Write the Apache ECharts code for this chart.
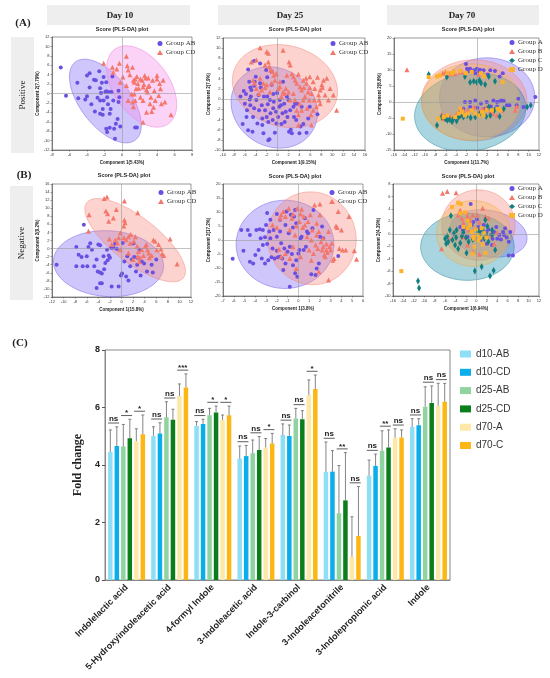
<!DOCTYPE html>
<html>
<head>
<meta charset="utf-8">
<script src="https://cdn.jsdelivr.net/npm/echarts/dist/echarts.min.js"></script>
<style>html,body{margin:0;padding:0;background:#fff}#main{width:550px;height:678px}</style>
</head>
<body>
<div id="main"></div>
<script>
// ---------- panel C data ----------
var metabolites = ['Indolelactic acid', '5-Hydroxyindoleacetic acid', '4-formyl Indole', '3-Indoleacetic acid',
    'Indole-3-carbinol', '3-Indoleacetonitrile', '3-Indolepropionic acid', 'Indole'];
var barNames = ['d10-AB', 'd10-CD', 'd25-AB', 'd25-CD', 'd70-A', 'd70-C'];
var barColors = ['#8edff6', '#0aaeea', '#8fd3a0', '#0b7d1a', '#fde8a8', '#fdb714'];
var d10AB = [4.46, 5.01, 5.36, 4.22, 5.04, 3.76, 3.63, 5.32];
var d10CD = [4.66, 5.10, 5.43, 4.31, 5.01, 3.77, 3.97, 5.38];
var d25AB = [4.64, 5.66, 5.73, 4.41, 5.62, 2.32, 4.50, 6.03];
var d25CD = [4.93, 5.57, 5.83, 4.52, 5.59, 2.77, 4.61, 6.16];
var d70A = [4.83, 6.40, 5.57, 4.61, 6.43, 0.81, 4.95, 6.06];
var d70C = [5.07, 6.70, 5.73, 4.75, 6.64, 1.53, 4.96, 6.20];
var d10ABsd = [0.76, 0.32, 0.15, 0.44, 0.39, 1.04, 0.54, 0.29];
var d10CDsd = [0.67, 0.37, 0.16, 0.37, 0.38, 0.73, 0.41, 0.23];
var d25ABsd = [0.77, 0.54, 0.24, 0.46, 0.35, 1.66, 0.69, 0.69];
var d25CDsd = [0.66, 0.37, 0.22, 0.47, 0.30, 1.66, 0.61, 0.59];
var d70Asd = [0.43, 0.42, 0.17, 0.31, 0.53, 1.39, 0.31, 0.78];
var d70Csd = [0.67, 0.47, 0.32, 0.35, 0.49, 1.72, 0.26, 0.64];
var sigLabels = [
    ['ns', '*', '*'], ['ns', 'ns', '***'], ['ns', '*', '*'], ['ns', 'ns', '*'],
    ['ns', 'ns', '*'], ['ns', '**', 'ns'], ['ns', '**', 'ns'], ['ns', 'ns', 'ns']
];

// ---------- panel A/B scores ----------
var d10PosAB = [[-7.0,5.5],[-6.4,-0.5],[-5.1,2.3],[-5.0,-1.0],[-4.2,-1.3],[-4.0,3.8],[-3.7,1.3],[-3.7,4.3],[-3.5,-2.3],[-3.2,2.9],[-3.0,2.8],[-2.8,-0.9],[-2.6,4.7],[-2.5,1.1],[-2.5,-1.5],[-2.4,0.1],[-2.3,2.3],[-2.2,-3.3],[-2.1,3.5],[-2.1,-1.5],[-1.9,0.3],[-1.8,0.5],[-1.8,2.4],[-1.7,-0.8],[-1.6,-2.3],[-1.5,0.3],[-1.4,-4.3],[-1.3,-3.3],[-1.2,0.3],[-1.1,3.6],[-1.0,-1.5],[-0.9,-7.5],[-0.8,-9.6],[-0.7,-6.4],[-0.5,-5.4],[-0.4,0.6],[-0.3,-0.8],[-0.2,-7.0],[-0.4,-1.8],[-1.8,-7.5],[-1.7,-8.2],[-1.4,-7.3],[-2.5,-4.3],[-2.2,-4.5],[1.5,-7.2],[1.7,-7.2],[-3.1,-3.8],[-4.0,-0.6]];
var d10PosCD = [[-2.1,6.4],[-1.1,5.6],[-0.6,5.2],[-0.3,6.4],[0.5,7.9],[0.6,5.9],[0.7,5.0],[0.9,4.0],[1.2,5.6],[1.3,2.8],[1.4,2.4],[1.5,3.1],[1.6,1.0],[1.7,3.6],[1.8,2.1],[1.9,1.1],[2.1,-0.8],[2.3,2.8],[2.4,-1.5],[2.4,1.4],[2.5,1.9],[2.6,3.8],[2.7,3.3],[2.8,0.8],[2.9,0.3],[3.0,1.5],[3.1,1.7],[3.3,-0.8],[3.4,-3.8],[3.6,-2.9],[3.7,0.6],[3.8,-1.5],[4.0,3.8],[4.0,3.1],[4.2,-0.4],[4.3,2.1],[4.4,1.0],[4.5,-2.2],[4.7,2.8],[4.9,-1.8],[5.6,-4.5],[3.2,-2.2],[1.2,-1.8],[1.5,-1.5],[1.1,-0.1],[1.4,-0.1],[2.4,-6.1],[2.8,-4.0],[-1.0,4.5],[0.1,3.5],[0.5,1.7],[0.7,-1.5],[1.3,-2.8],[2.1,3.1],[3.0,3.3],[3.5,2.8],[-0.2,2.4]];
var d25PosAB = [[-6.8,0.5],[-6.4,-4.9],[-6.2,1.6],[-6.0,-0.9],[-5.8,1.0],[-5.7,-3.5],[-5.6,-2.2],[-5.4,5.8],[-5.4,-6.1],[-5.2,3.4],[-5.1,-0.1],[-5.0,-1.2],[-4.9,0.5],[-4.8,1.8],[-4.6,-6.4],[-4.5,-3.5],[-4.3,7.5],[-4.3,-1.8],[-4.2,3.4],[-4.0,4.4],[-3.9,-0.2],[-3.7,-4.8],[-3.5,0.8],[-3.4,-2.2],[-3.2,7.0],[-3.1,2.3],[-2.9,-1.2],[-2.8,-5.1],[-2.8,-3.8],[-2.6,-6.7],[-2.5,0.5],[-2.3,-2.2],[-2.1,5.7],[-2.0,-3.5],[-1.9,4.3],[-1.8,-1.0],[-1.7,-4.5],[-1.7,-8.1],[-1.5,-7.9],[-1.4,-0.2],[-1.3,-2.8],[-1.1,5.4],[-1.1,2.8],[-0.9,-4.1],[-0.8,-1.8],[-0.7,-0.5],[-0.5,-6.6],[-0.3,-2.5],[-0.2,-4.8],[-0.1,1.2],[0.1,-3.5],[0.3,-1.5],[0.4,-0.2],[0.6,-1.2],[0.7,-4.9],[0.9,-2.8],[1.0,3.4],[1.2,-0.9],[1.3,-4.5],[1.5,-2.5],[1.7,0.5],[1.8,-3.5],[2.0,-0.2],[2.1,-6.4],[2.3,-2.2],[2.4,-6.0],[2.6,-6.7],[2.9,-1.5],[3.0,-3.5],[3.2,-0.9],[3.4,-4.1],[3.6,-0.9],[4.0,-6.7],[4.2,-5.4],[4.4,-1.5],[4.7,-4.9],[5.3,-6.6],[5.6,-3.8],[5.9,-1.5],[7.3,-3.0],[-1.9,0.5],[-0.8,1.0],[-3.2,3.1],[-5.0,2.3],[-4.3,2.6]];
var d25PosCD = [[-3.2,10.1],[-2.0,9.3],[-1.7,9.0],[-4.8,7.3],[-3.9,7.7],[-2.3,6.7],[-1.7,7.3],[-1.5,6.4],[-1.3,5.7],[-0.9,5.4],[-0.7,4.7],[-0.2,5.0],[0.4,3.4],[1.0,9.6],[1.7,4.7],[2.1,7.3],[2.3,6.7],[2.6,5.0],[2.9,4.4],[3.2,3.7],[3.5,3.1],[3.8,4.9],[4.1,2.4],[4.4,1.8],[4.7,3.7],[5.0,0.5],[5.2,4.1],[5.3,3.1],[5.6,1.4],[5.8,-0.2],[5.9,4.4],[6.2,1.1],[6.5,3.4],[6.8,2.1],[7.1,-1.5],[7.5,0.8],[7.6,-0.2],[7.8,-0.9],[8.1,2.8],[8.2,2.3],[8.7,0.8],[9.0,4.1],[9.3,-0.2],[9.6,2.1],[10.2,0.8],[10.8,-2.2],[2.9,1.1],[3.2,-0.2],[2.3,-0.2],[2.0,1.4],[1.5,2.1],[1.0,1.4],[0.7,0.5],[0.4,2.4],[0.1,2.1],[-0.5,3.7],[-1.1,3.1],[-2.0,2.8],[-2.3,2.3],[-2.6,3.1],[-2.9,1.8],[-3.4,1.1],[-3.9,2.1],[-4.2,3.1],[-4.5,3.7],[-3.2,4.1],[-1.4,1.4],[3.5,-2.2],[3.8,-3.1],[4.4,-2.2],[4.0,-0.9],[4.7,-0.2],[5.4,-1.8],[6.1,-3.1],[6.5,-2.2],[6.2,-5.1],[3.8,-5.1],[1.3,1.1],[6.7,-0.2],[7.8,1.8],[8.4,3.7],[7.3,4.3],[5.9,2.3],[4.8,2.3]];
var d70PosA = [[-2.1,11.9],[-1.9,10.4],[-1.6,9.7],[-1.3,10.4],[-0.6,9.9],[-0.3,9.0],[0.0,10.4],[0.3,9.7],[0.6,10.1],[1.3,9.9],[2.1,8.6],[2.6,9.9],[3.5,9.7],[4.4,8.0],[5.0,9.0],[-2.3,0.0],[-1.3,0.0],[-0.3,0.5],[0.8,-0.5],[1.9,0.0],[3.2,0.5],[3.9,0.0],[4.5,0.2],[4.8,0.5],[5.2,0.3],[5.8,-1.0],[6.3,-1.0],[8.0,1.0],[9.0,-1.6],[11.3,1.6],[0.1,-1.8],[2.7,-1.4],[-1.3,-1.6],[7.7,-1.0],[-2.6,-2.1],[-3.2,-2.6],[1.6,-2.1],[3.9,-1.4]];
var d70PosB = [[-13.5,10.1],[-6.6,9.0],[-6.1,9.4],[-5.7,8.6],[-5.2,9.0],[-4.6,9.7],[-4.2,8.8],[-3.2,9.6],[-2.9,9.4],[-6.8,-3.8],[-6.1,-4.2],[-5.2,-4.5],[-3.9,-3.6],[-2.6,-2.6],[-1.8,-2.6],[-0.5,-1.6],[0.3,-3.1],[1.0,-2.1],[2.6,-3.1],[3.1,-3.6],[3.9,-4.2],[4.8,-2.6],[7.7,-1.4],[7.4,-2.6],[-6.4,-5.2],[-4.5,-4.7],[-3.2,-4.2],[1.9,-1.6],[0.3,8.6],[-5.7,-5.2]];
var d70PosC = [[-9.3,8.6],[-5.8,7.8],[-2.3,8.0],[-1.3,6.2],[-0.6,6.5],[0.0,6.2],[0.5,6.8],[0.8,5.9],[1.6,5.5],[2.3,8.0],[3.5,6.5],[-7.7,-7.3],[-6.8,-4.7],[-6.1,-5.2],[-5.7,-5.7],[-5.3,-5.5],[-4.8,-6.2],[-4.5,-5.2],[-3.5,-4.7],[-3.2,-4.2],[-2.6,-4.7],[-1.9,-4.2],[-1.2,-4.9],[-0.3,-4.7],[0.6,-3.6],[1.8,-4.5],[2.6,-4.2],[3.4,-2.6],[4.4,-4.5],[9.7,-1.6],[10.4,-1.0],[2.3,-1.6],[5.2,-2.1],[-3.9,-5.9]];
var d70PosD = [[-14.3,-5.2],[-9.3,7.8],[-7.7,8.0],[-7.1,8.3],[-5.7,9.0],[-4.8,9.0],[-4.4,9.4],[-3.2,9.7],[-2.1,9.0],[-1.0,9.4],[0.8,9.0],[1.4,8.0],[5.0,6.2],[-7.4,-5.2],[-6.4,-4.7],[-5.7,-4.2],[-4.2,-4.7],[-3.5,-3.6],[-2.9,-3.1],[-2.3,-4.2],[-1.8,-3.6],[-1.0,-2.6],[-0.3,-3.6],[0.3,-4.2],[1.0,-3.1],[1.3,-4.2],[2.9,-2.6],[4.0,-2.1],[4.5,-2.6],[1.9,-2.6],[-3.2,-2.1]];
var d10NegAB = [[-11.2,-4.0],[-6.5,5.9],[-7.8,0.4],[-6.9,-2.1],[-7.4,-1.5],[-6.7,-4.4],[-6.0,-1.9],[-5.7,0.4],[-5.4,1.3],[-5.1,-0.3],[-4.7,-4.4],[-4.3,-2.7],[-4.1,-5.7],[-4.0,1.0],[-3.7,0.8],[-3.7,-5.9],[-3.4,-6.2],[-3.1,-1.9],[-2.8,-3.6],[-2.5,-0.3],[-2.4,-2.9],[-2.2,-1.7],[-1.8,0.2],[-1.7,-9.4],[-1.4,0.2],[-1.1,1.2],[-0.8,-0.1],[-0.5,-9.4],[-0.1,-6.7],[0.1,-6.2],[0.2,1.4],[0.5,-3.2],[0.8,-6.9],[1.0,-1.9],[1.2,-7.9],[1.5,-4.4],[1.8,-2.7],[2.1,1.3],[2.2,-2.1],[2.5,-5.7],[2.7,-4.0],[2.8,-2.3],[3.1,-0.3],[3.3,-6.7],[3.5,-3.2],[3.9,-3.7],[4.4,-5.7],[5.2,-4.0],[5.4,-5.9],[6.0,-2.7],[-3.7,-8.6],[-4.3,-9.8],[-3.4,-8.6],[-3.0,-5.1],[-2.0,-2.3],[-5.9,-4.4],[-7.8,-4.4]];
var d10NegCD = [[-5.6,8.4],[-3.0,12.4],[-2.5,12.8],[-2.7,9.3],[-2.4,8.6],[-2.2,6.8],[-1.4,7.6],[-0.9,9.7],[0.5,11.8],[0.5,7.1],[0.6,6.4],[0.4,5.6],[2.8,8.9],[-5.7,4.3],[-2.1,2.4],[-1.7,1.0],[-1.1,2.1],[-0.7,1.4],[-0.2,3.9],[0.4,2.7],[0.8,2.2],[1.2,2.9],[1.5,1.3],[2.1,1.8],[2.4,2.9],[2.7,0.6],[2.8,-1.9],[2.9,-0.7],[3.2,-2.3],[3.5,-0.3],[3.8,-1.7],[4.1,0.6],[4.3,1.0],[4.5,-0.3],[4.7,-1.1],[4.8,-2.3],[5.2,-1.7],[5.5,2.1],[5.8,1.8],[6.1,-0.3],[6.4,1.0],[6.8,-0.1],[7.0,-1.3],[7.3,-1.7],[8.4,2.4],[9.6,-3.8],[-0.2,-0.3],[1.2,-1.1],[2.0,-2.7],[3.1,-3.2],[1.6,3.5],[-0.5,2.7]];
var d25NegAB = [[-6.1,-6.7],[-5.3,3.6],[-5.1,-3.8],[-4.7,3.6],[-4.5,-7.8],[-4.5,1.8],[-4.2,-8.4],[-4.0,-5.4],[-3.9,3.6],[-3.7,-3.6],[-3.6,3.8],[-3.5,0.6],[-3.4,-6.6],[-3.3,-1.8],[-3.3,3.6],[-3.1,1.0],[-3.1,-8.4],[-3.0,5.4],[-2.9,-1.4],[-2.8,-7.2],[-2.7,3.0],[-2.6,7.2],[-2.6,0.6],[-2.5,-6.2],[-2.4,-3.0],[-2.3,3.6],[-2.2,-6.6],[-2.0,1.2],[-2.0,9.3],[-2.0,-3.8],[-1.9,-6.2],[-1.7,3.0],[-1.7,7.2],[-1.6,-1.2],[-1.5,-6.6],[-1.4,-10.7],[-1.3,-3.0],[-1.2,5.4],[-1.2,-8.4],[-1.1,10.2],[-1.0,-4.2],[-0.9,2.4],[-0.8,-16.7],[-0.8,-2.4],[-0.7,9.0],[-0.6,-5.0],[-0.5,-9.0],[-0.5,4.5],[-0.4,8.4],[-0.3,10.7],[-0.2,-7.2],[-0.2,6.0],[-0.1,-13.1],[0.0,-4.8],[0.1,-3.6],[0.2,0.6],[0.3,1.2],[0.5,-3.6],[0.6,7.8],[0.7,-2.4],[0.8,3.0],[0.9,2.4],[1.2,-12.2],[1.3,4.2],[1.4,10.7],[1.6,-12.5],[1.7,-10.2],[1.9,-8.4],[2.0,1.2],[2.2,4.8],[2.3,0.6],[3.7,-5.7],[-2.9,9.6],[-0.3,-11.9],[-1.7,-6.0]];
var d25NegCD = [[-2.4,5.4],[-2.0,4.5],[-1.7,7.8],[-1.6,9.0],[-1.4,10.2],[-1.2,8.4],[-0.9,11.3],[-0.8,3.6],[-0.6,7.8],[-0.5,9.3],[-0.3,1.8],[-0.2,5.0],[-0.1,11.3],[0.1,6.6],[0.2,9.3],[0.3,11.0],[0.4,4.5],[0.5,8.4],[0.6,5.4],[0.8,1.2],[0.9,6.6],[1.0,-3.6],[1.1,9.0],[1.2,-7.2],[1.2,0.0],[1.3,3.6],[1.4,-4.8],[1.5,12.5],[1.6,-1.8],[1.7,1.8],[1.7,6.0],[1.8,-3.0],[1.9,3.0],[2.0,12.9],[2.0,9.0],[2.1,-0.6],[2.2,-3.6],[2.3,0.6],[2.3,-2.4],[2.4,-5.4],[2.5,-6.0],[2.6,-1.4],[2.6,-3.6],[2.7,-4.5],[2.8,3.0],[2.9,-2.4],[3.0,-3.6],[3.1,-1.2],[3.2,-7.2],[3.3,-6.6],[3.5,5.0],[3.6,4.5],[3.7,10.2],[3.8,-3.0],[4.0,3.6],[4.1,-3.6],[4.4,-3.6],[4.7,8.4],[5.2,-3.8],[5.4,-6.9],[2.8,-14.3],[1.9,-11.3],[-1.6,-6.0],[-1.2,-4.8],[-0.8,-6.6],[-0.2,-10.2],[-1.8,-3.3],[-0.5,-2.4],[0.2,-6.0]];
var d70NegA = [[-1.1,4.8],[-3.1,1.1],[-2.6,0.6],[-2.0,0.9],[-1.7,-0.5],[-0.9,1.4],[-0.6,1.9],[0.1,2.3],[0.4,1.1],[0.8,0.6],[1.4,1.4],[1.9,0.3],[2.3,0.7],[2.8,-0.2],[3.1,-0.8],[3.4,0.3],[3.8,1.1],[4.0,-0.8],[4.4,-0.2],[4.7,-0.9],[5.1,0.3],[5.3,-0.2],[5.5,0.9],[5.8,-0.6],[6.2,-1.3],[6.5,0.3],[6.2,-3.5],[7.0,-3.5],[2.0,-1.6],[0.8,-1.0],[-0.3,-0.8],[3.0,-1.8]];
var d70NegB = [[-6.5,6.5],[-5.6,6.8],[-3.9,6.6],[-6.7,-2.4],[-5.1,-0.8],[-3.5,3.0],[-3.1,3.8],[-2.8,2.5],[-2.5,1.8],[-2.0,3.4],[-1.7,2.8],[-1.2,2.2],[-0.7,3.0],[-0.3,0.9],[0.2,3.0],[0.6,1.9],[1.2,4.1],[1.7,2.8],[2.3,2.5],[2.8,-0.2],[3.4,-1.6],[3.9,0.2],[-2.4,-0.5],[-1.7,-1.8],[-0.6,-2.9],[0.6,-3.3],[-1.5,0.6]];
var d70NegC = [[-11.2,-7.6],[-11.0,-8.7],[-6.0,-0.8],[-5.8,-1.6],[-5.6,-0.4],[-5.4,-1.3],[-5.1,0.6],[-4.9,2.9],[-4.6,-1.0],[-4.3,0.1],[-4.1,-1.8],[-3.9,-0.6],[-3.8,0.6],[-3.5,-2.4],[-3.1,-1.5],[-2.8,-0.4],[-2.5,0.2],[-2.0,-0.6],[-1.9,-3.1],[-1.5,-1.3],[-0.7,-0.9],[-0.3,-6.0],[0.1,0.6],[0.6,0.3],[0.8,-0.6],[1.0,-5.3],[1.2,0.6],[1.5,-0.8],[1.9,-0.2],[2.1,1.2],[2.3,-1.3],[2.6,-6.8],[3.0,-0.2],[3.3,-5.9],[3.6,-2.6],[3.0,0.6],[1.7,2.2]];
var d70NegD = [[-14.4,-6.0],[-4.7,4.3],[-3.5,5.0],[-3.0,4.8],[-3.1,3.3],[-2.2,3.4],[-1.7,2.1],[-1.2,1.4],[-0.9,0.3],[-0.6,-0.4],[-0.5,-0.8],[-0.1,0.7],[0.2,-0.2],[0.4,-1.1],[0.7,-0.6],[1.0,0.9],[1.2,-1.7],[1.5,0.1],[1.9,-0.6],[-0.7,-3.2],[1.7,-3.1],[-0.3,-2.1],[-1.7,0.9],[-2.5,1.1]];

// confidence ellipses: centre x, centre y, semi-axis u (x,y), semi-axis v (x,y)
var ell10Pos = [[-1.9,-1.6,3.43,-8.28,-2.26,-3.24],[2.25,1.49,3.05,-7.93,-2.59,-3.44]];
var ell25Pos = [[-0.61,-1.64,7.02,-4.58,-3.66,-6.55],[1.34,2.55,9.46,-2.62,-1.83,-7.73]];
var ell70Pos = [[1.99,1.45,9.2,0,0,-12.36],[-0.51,0.52,10.17,0,0,-12.67],[-1.29,-3.12,10.62,3.12,1.61,-11.94],[-1.16,0,9.52,0,0,-11.94]];
var ell10Neg = [[-2.24,-3.74,9.5,-0.83,-0.35,-8.14],[2.36,2.08,8.35,-9.3,-2.39,-4.48]];
var ell25Neg = [[-1.24,-1.55,4.54,0,0,-15.76],[1.24,0.6,1.09,-16.12,3.98,3.94]];
var ell70Neg = [[2.31,0.05,7.37,-1.08,-0.64,-3.66],[0.38,1.4,7.05,0,0,-5.66],[-1.73,-2.1,8.97,0,0,-5.39],[-0.58,0.05,7.05,0,0,-5.28]];

var serif = '"Liberation Serif","Times New Roman",serif';
var sans = '"Liberation Sans",Arial,sans-serif';

var grids = [], xAxes = [], yAxes = [], series = [], legends = [];

function ellipseRenderer(fill, stroke) {
    return function (params, api) {
        var pts = [];
        for (var k = 0; k < 90; k++) {
            var t = k / 90 * Math.PI * 2;
            pts.push(api.coord([
                api.value(0) + api.value(2) * Math.cos(t) + api.value(4) * Math.sin(t),
                api.value(1) + api.value(3) * Math.cos(t) + api.value(5) * Math.sin(t)
            ]));
        }
        return {type: 'polygon', shape: {points: pts}, style: {fill: fill, stroke: stroke, lineWidth: 0.6}};
    };
}

function addPanel(gi, box, xr, yr, xName, yName, groups, legendPos) {
    grids.push({left: box[0], top: box[1], width: box[2], height: box[3], show: true, borderColor: '#555', borderWidth: 0.6});
    var axisCommon = {
        nameLocation: 'middle',
        nameTextStyle: {fontSize: 4.5, fontWeight: 'bold', fontFamily: sans, color: '#222'},
        axisLine: {onZero: false, lineStyle: {color: '#444', width: 0.6}},
        axisTick: {length: 1.5, lineStyle: {color: '#444', width: 0.5}},
        axisLabel: {fontSize: 4, margin: 2.5, color: '#333', fontFamily: sans},
        splitLine: {show: false}
    };
    xAxes.push(Object.assign({gridIndex: gi, type: 'value', min: xr[0], max: xr[1], interval: xr[2], name: xName, nameGap: 10}, axisCommon));
    yAxes.push(Object.assign({gridIndex: gi, type: 'value', min: yr[0], max: yr[1], interval: yr[2], name: yName, nameGap: 12}, axisCommon));
    groups.forEach(function (g) {
        series.push({
            type: 'custom', name: g.name + ' ellipse', xAxisIndex: gi, yAxisIndex: gi, clip: true, z: 1, silent: true,
            encode: {x: 0, y: 1}, data: [g.ell], renderItem: ellipseRenderer(g.fill, g.stroke)
        });
    });
    groups.forEach(function (g, k) {
        var s = {
            type: 'scatter', name: g.name, xAxisIndex: gi, yAxisIndex: gi, data: g.data,
            symbol: g.symbol, symbolSize: g.size, itemStyle: {color: g.color, opacity: 1}, z: 3, silent: true
        };
        if (k === 0) {
            s.markLine = {
                silent: true, symbol: 'none', label: {show: false},
                lineStyle: {color: '#999', width: 0.6, type: 'solid'},
                data: [{xAxis: 0}, {yAxis: 0}]
            };
        }
        series.push(s);
    });
    legends.push({
        data: groups.map(function (g) { return {name: g.name, icon: g.icon}; }),
        left: legendPos[0], top: legendPos[1], orient: 'vertical', padding: 0,
        itemWidth: 6, itemHeight: 5, itemGap: 2, selectedMode: false,
        textStyle: {fontSize: 7, fontFamily: serif, color: '#333', padding: [0, 0, 0, -2]}
    });
}

var PURPLE = '#6a4fe2', SALMON = '#f4776b', TEAL = '#0f7f82', ORANGE = '#fdb22b';
var fAB = 'rgba(128,108,245,0.38)', sAB = 'rgba(110,90,230,0.8)';
var fCD = 'rgba(246,140,125,0.38)', sCD = 'rgba(240,120,105,0.7)';
var fCDpink = 'rgba(245,150,235,0.42)', sCDpink = 'rgba(238,120,220,0.8)';
var fC = 'rgba(40,150,178,0.4)', sC = 'rgba(20,120,150,0.7)';
var fD = 'rgba(250,185,90,0.38)', sD = 'rgba(240,160,60,0.7)';

function twoGroups(ab, cd, ell, pink) {
    return [
        {name: 'Group AB', data: ab, symbol: 'circle', size: 4, color: PURPLE, icon: 'circle', ell: ell[0], fill: fAB, stroke: sAB},
        {name: 'Group CD', data: cd, symbol: 'triangle', size: 5, color: SALMON, icon: 'triangle', ell: ell[1],
            fill: pink ? fCDpink : fCD, stroke: pink ? sCDpink : sCD}
    ];
}
function fourGroups(a, b, c, d, ell) {
    return [
        {name: 'Group A', data: a, symbol: 'circle', size: 4, color: PURPLE, icon: 'circle', ell: ell[0], fill: fAB, stroke: sAB},
        {name: 'Group B', data: b, symbol: 'triangle', size: 5, color: SALMON, icon: 'triangle', ell: ell[1], fill: fCD, stroke: sCD},
        {name: 'Group C', data: c, symbol: 'diamond', size: [4, 7], color: TEAL, icon: 'diamond', ell: ell[2], fill: fC, stroke: sC},
        {name: 'Group D', data: d, symbol: 'rect', size: 4, color: ORANGE, icon: 'rect', ell: ell[3], fill: fD, stroke: sD}
    ];
}

addPanel(0, [52, 37, 140, 113], [-8, 8, 2], [-12, 12, 2], 'Component 1(5.43%)', 'Component 2(7.79%)',
    twoGroups(d10PosAB, d10PosCD, ell10Pos, true), [157, 40]);
addPanel(1, [223, 38, 142, 112], [-10, 16, 2], [-10, 12, 2], 'Component 1(9.15%)', 'Component 2(7.9%)',
    twoGroups(d25PosAB, d25PosCD, ell25Pos, false), [330, 40]);
addPanel(2, [394, 38, 145, 112], [-16, 12, 2], [-15, 20, 5], 'Component 1(11.7%)', 'Component 2(8.8%)',
    fourGroups(d70PosA, d70PosB, d70PosC, d70PosD, ell70Pos), [509, 39]);
addPanel(3, [52, 184, 139, 113], [-12, 12, 2], [-12, 16, 2], 'Component 1(15.8%)', 'Component 2(9.2%)',
    twoGroups(d10NegAB, d10NegCD, ell10Neg, false), [158, 189]);
addPanel(4, [223, 184, 140, 112], [-7, 6, 1], [-20, 20, 5], 'Component 1(3.8%)', 'Component 2(17.2%)',
    twoGroups(d25NegAB, d25NegCD, ell25Neg, false), [329, 189]);
addPanel(5, [393, 184, 146, 112], [-16, 12, 2], [-10, 8, 2], 'Component 1(6.94%)', 'Component 2(4.39%)',
    fourGroups(d70NegA, d70NegB, d70NegC, d70NegD, ell70Neg), [509, 185]);

// ---------- panel C: bars ----------
var BW = 4.5, GAP = 2;
var groupW = 6 * BW + 5 * GAP;
function barOffset(s) { return -groupW / 2 + BW / 2 + s * (BW + GAP); }

grids.push({left: 105, top: 350, width: 345, height: 230, show: true, borderColor: '#888', borderWidth: 1});
xAxes.push({
    gridIndex: 6, type: 'category', data: metabolites,
    axisLine: {lineStyle: {color: '#888', width: 1}},
    axisTick: {alignWithLabel: true, length: 3, lineStyle: {color: '#555'}},
    axisLabel: {rotate: 45, interval: 0, fontSize: 9, fontWeight: 'bold', color: '#222', fontFamily: sans, margin: 6}
});
yAxes.push({
    gridIndex: 6, type: 'value', min: 0, max: 8, interval: 2,
    name: 'Fold change', nameLocation: 'middle', nameGap: 17,
    nameTextStyle: {fontFamily: serif, fontWeight: 'bold', fontSize: 12, color: '#222'},
    axisLine: {show: true, lineStyle: {color: '#888', width: 1}},
    axisTick: {show: true, length: 3, lineStyle: {color: '#555'}},
    axisLabel: {fontSize: 9, fontWeight: 'bold', color: '#222', fontFamily: sans, margin: 5},
    splitLine: {show: false}
});

var means = [d10AB, d10CD, d25AB, d25CD, d70A, d70C];
var sds = [d10ABsd, d10CDsd, d25ABsd, d25CDsd, d70Asd, d70Csd];
means.forEach(function (m, s) {
    series.push({
        type: 'bar', name: barNames[s], xAxisIndex: 6, yAxisIndex: 6, data: m,
        barWidth: BW, barGap: (GAP / BW * 100) + '%', itemStyle: {color: barColors[s]}, z: 2, silent: true
    });
});

var errData = [], sigData = [], sigText = [];
metabolites.forEach(function (name, c) {
    for (var s = 0; s < 6; s++) errData.push([c, s, means[s][c], sds[s][c]]);
    for (var p = 0; p < 3; p++) {
        var top = Math.max(means[2 * p][c] + sds[2 * p][c], means[2 * p + 1][c] + sds[2 * p + 1][c]);
        sigData.push([c, p, top + 0.13]);
        sigText.push(sigLabels[c][p]);
    }
});

series.push({
    type: 'custom', name: 'sd', xAxisIndex: 6, yAxisIndex: 6, z: 4, silent: true,
    encode: {x: 0, y: 2}, data: errData,
    renderItem: function (params, api) {
        var c = api.value(0), s = api.value(1), m = api.value(2), e = api.value(3);
        var base = api.coord([c, m]), top = api.coord([c, m + e]);
        var x = base[0] + barOffset(s);
        return {type: 'group', children: [
            {type: 'line', shape: {x1: x, y1: base[1], x2: x, y2: top[1]}, style: {stroke: '#666', lineWidth: 0.8}},
            {type: 'line', shape: {x1: x - 1.5, y1: top[1], x2: x + 1.5, y2: top[1]}, style: {stroke: '#666', lineWidth: 0.8}}
        ]};
    }
});
series.push({
    type: 'custom', name: 'sig', xAxisIndex: 6, yAxisIndex: 6, z: 5, silent: true,
    encode: {x: 0, y: 2}, data: sigData,
    renderItem: function (params, api) {
        var c = api.value(0), p = api.value(1), lv = api.value(2);
        var pt = api.coord([c, lv]);
        var x1 = pt[0] + barOffset(2 * p) - BW / 2, x2 = pt[0] + barOffset(2 * p + 1) + BW / 2;
        var label = sigText[params.dataIndex];
        var isStar = label.charAt(0) === '*';
        return {type: 'group', children: [
            {type: 'line', shape: {x1: x1, y1: pt[1], x2: x2, y2: pt[1]}, style: {stroke: '#333', lineWidth: 0.8}},
            {type: 'text', x: (x1 + x2) / 2, y: pt[1] - (isStar ? -1.5 : 0.5), style: {
                text: label, fill: '#222', fontSize: isStar ? 8 : 8, fontWeight: 'bold', fontFamily: sans,
                align: 'center', verticalAlign: 'bottom', textAlign: 'center', textVerticalAlign: 'bottom'
            }}
        ]};
    }
});

legends.push({
    data: barNames, left: 460, top: 349, orient: 'vertical', itemWidth: 11, itemHeight: 7, itemGap: 8.3,
    icon: 'rect', selectedMode: false, padding: 0,
    textStyle: {fontSize: 10, color: '#333', fontFamily: sans}
});

// ---------- decorations ----------
function txt(x, y, s, font, rot) {
    return {type: 'text', x: x, y: y, rotation: rot || 0, silent: true, style: {
        text: s, font: font, fill: '#222', align: 'center', verticalAlign: 'middle',
        textAlign: 'center', textVerticalAlign: 'middle'
    }};
}
function box(x, y, w, h) {
    return {type: 'rect', silent: true, shape: {x: x, y: y, width: w, height: h}, style: {fill: '#eeeeee'}};
}
var graphics = [
    box(47, 5, 143, 20), box(218, 5, 142, 20), box(387, 5, 152, 20),
    txt(120, 15.5, 'Day 10', 'bold 9px ' + serif), txt(290, 15.5, 'Day 25', 'bold 9px ' + serif), txt(462, 15.5, 'Day 70', 'bold 9px ' + serif),
    txt(23, 23, '(A)', 'bold 11px ' + serif), txt(24, 175, '(B)', 'bold 11px ' + serif), txt(20, 343, '(C)', 'bold 11px ' + serif),
    box(11, 37, 23, 116), box(10, 186, 23, 114),
    txt(23, 95, 'Positive', '9px ' + serif, Math.PI / 2), txt(22, 243, 'Negative', '9px ' + serif, Math.PI / 2),
    txt(122, 29.5, 'Score (PLS-DA) plot', 'bold 5.5px ' + sans), txt(295, 29.5, 'Score (PLS-DA) plot', 'bold 5.5px ' + sans),
    txt(468, 29.5, 'Score (PLS-DA) plot', 'bold 5.5px ' + sans), txt(124, 175.5, 'Score (PLS-DA) plot', 'bold 5.5px ' + sans),
    txt(295, 176.5, 'Score (PLS-DA) plot', 'bold 5.5px ' + sans), txt(468, 176, 'Score (PLS-DA) plot', 'bold 5.5px ' + sans)
];

var chart = echarts.init(document.getElementById('main'), null, {renderer: 'canvas'});
chart.setOption({
    backgroundColor: '#ffffff',
    animation: false,
    grid: grids,
    xAxis: xAxes,
    yAxis: yAxes,
    legend: legends,
    graphic: graphics,
    series: series
});
</script>
</body>
</html>
